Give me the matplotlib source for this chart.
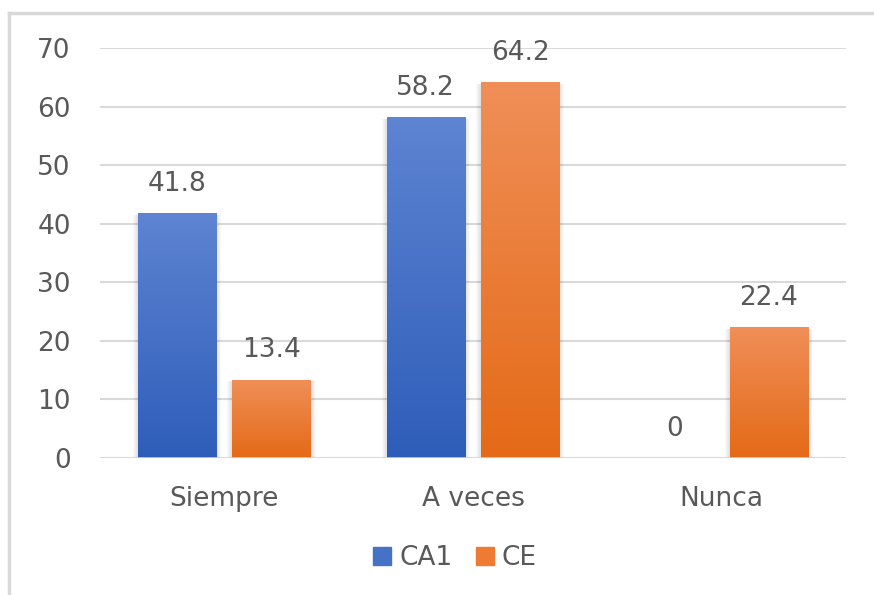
#Grouped bar chart: CA1 vs CE

#importing libaries
import matplotlib.pyplot as plt
import numpy as np
from matplotlib.colors import LinearSegmentedColormap
from matplotlib.lines import Line2D
from matplotlib.patches import Rectangle

plt.rcParams['font.family'] = ['DejaVu Sans']

#data
categories = ['Siempre', 'A veces', 'Nunca']
ca1 = [41.8, 58.2, 0]
ce = [13.4, 64.2, 22.4]
series_names = ['CA1', 'CE']

#colors (bottom -> top of the gradient)
blue_cmap = LinearSegmentedColormap.from_list('b', ['#2E5DB9', '#5E84D2'])
orange_cmap = LinearSegmentedColormap.from_list('o', ['#E46A17', '#F08F58'])
text_col = '#595959'
fs = 19

fig = plt.figure(figsize=(8.74, 5.95), dpi=100)
ax = fig.add_axes([100/874, 1-458/595, 746/874, 410/595])

x = np.arange(len(categories))
w = 0.315
off = 0.19
px = 3.0/746  #one pixel in x data units

def gradient_bars(xs, vals, cmap):
    bars = ax.bar(xs, vals, w, color='none', edgecolor='none', zorder=3)
    grad = np.linspace(0, 1, 256).reshape(-1, 1)
    for b in bars:
        if b.get_height() <= 0:
            continue
        x0, y0 = b.get_x(), b.get_y()
        #soft shadow on the sides
        for k in range(1, 6):
            ax.add_patch(Rectangle((x0 - k*px, 0), b.get_width() + 2*k*px, b.get_height() - 0.3,
                                   color='black', alpha=0.022, lw=0, zorder=2))
        im = ax.imshow(grad, cmap=cmap, origin='lower', aspect='auto',
                       extent=[x0, x0 + b.get_width(), y0, y0 + b.get_height()],
                       zorder=3)
        im.set_clip_path(b)
    return bars

b1 = gradient_bars(x - off, ca1, blue_cmap)
b2 = gradient_bars(x + off, ce, orange_cmap)

#value labels
for bars, vals in ((b1, ca1), (b2, ce)):
    for b, v in zip(bars, vals):
        ax.annotate(f'{v:g}', (b.get_x() + b.get_width()/2, v), xytext=(0, 16),
                    textcoords='offset points', ha='center', va='baseline',
                    fontsize=fs, color=text_col)

#axis settings
ax.set_xlim(-0.5, 2.5)
ax.set_ylim(0, 70)
ax.set_yticks(range(0, 71, 10))
ax.set_xticks(x)
ax.set_xticklabels(categories)
ax.grid(axis='y', color='#D9D9D9', linewidth=1.5, zorder=0)
for s in ax.spines.values():
    s.set_visible(False)
ax.axhline(0, color='#D9D9D9', linewidth=1.8, zorder=4)
ax.tick_params(length=0, labelsize=fs, colors=text_col)
ax.tick_params(axis='y', pad=21)
ax.tick_params(axis='x', pad=20)

#legend
handles = [Rectangle((0, 0), 1, 1, color='#4672C6'),
           Rectangle((0, 0), 1, 1, color='#EE7B31')]
fig.legend(handles, series_names, loc='center', bbox_to_anchor=(455/874, 1-558/595),
           ncol=2, frameon=False, fontsize=fs, handlelength=0.68, handleheight=0.68,
           handletextpad=0.3, columnspacing=0.9, labelcolor=text_col)

#outer border (left and top only)
fig.add_artist(Line2D([8.5/874, 8.5/874], [0, 1-13/595], color='#D9D9D9', linewidth=2.5))
fig.add_artist(Line2D([8.5/874, 1], [1-13/595, 1-13/595], color='#D9D9D9', linewidth=2.5))

plt.savefig('out.png', dpi=100)
